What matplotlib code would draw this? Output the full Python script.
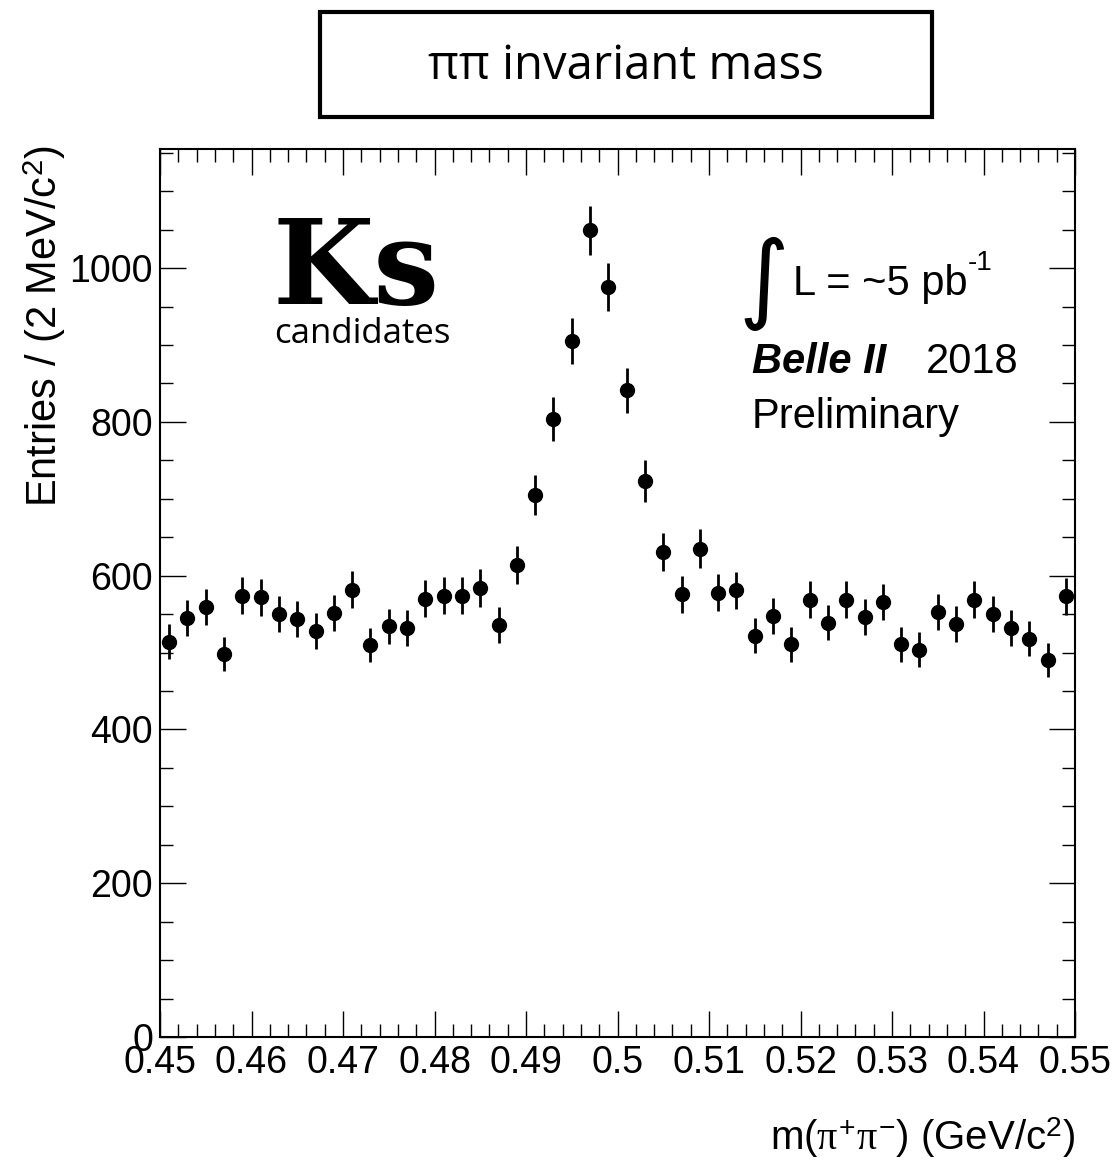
import numpy as np
import matplotlib
matplotlib.use("Agg")
import matplotlib.pyplot as plt
from matplotlib import font_manager
from matplotlib.patches import Rectangle
from matplotlib.ticker import MultipleLocator, FuncFormatter

# m(pi+ pi-) histogram, 50 bins of 2 MeV between 0.45 and 0.55 GeV
bin_lo = 0.45
bin_hi = 0.55
n_bins = 50
counts = [514, 545, 559, 498, 574, 572, 550, 544, 528, 552,
          582, 510, 534, 532, 570, 574, 574, 584, 536, 614,
          705, 804, 905, 1049, 975, 841, 723, 631, 576, 635,
          578, 581, 522, 548, 511, 569, 539, 569, 546, 566,
          511, 504, 553, 537, 569, 550, 532, 518, 490, 573]

edges = np.linspace(bin_lo, bin_hi, n_bins + 1)
centers = 0.5 * (edges[:-1] + edges[1:])
counts = np.array(counts, dtype=float)
errors = np.sqrt(counts)

# narrow Helvetica look for the axis numbers if available
installed = {f.name for f in font_manager.fontManager.ttflist}
narrow = "Liberation Sans Narrow" if "Liberation Sans Narrow" in installed else "Liberation Sans"
num_size = 30 if narrow != "Liberation Sans" else 27

plt.rcParams["font.family"] = ["Liberation Sans", "DejaVu Sans"]
plt.rcParams["mathtext.fontset"] = "custom"
plt.rcParams["mathtext.rm"] = narrow
plt.rcParams["mathtext.it"] = "Liberation Serif"

W, H = 1118, 1160
fig = plt.figure(figsize=(W / 100, H / 100), dpi=100)
ax = fig.add_axes([160 / W, 1 - 1037 / H, 915 / W, 888 / H])

ax.errorbar(centers, counts, yerr=errors, fmt="o", color="black",
            markersize=10, elinewidth=2.0, capsize=0)

ax.set_xlim(bin_lo, bin_hi)
ax.set_ylim(0, 1155)

ax.xaxis.set_major_locator(MultipleLocator(0.01))
ax.xaxis.set_minor_locator(MultipleLocator(0.002))
ax.yaxis.set_major_locator(MultipleLocator(200))
ax.yaxis.set_minor_locator(MultipleLocator(50))
ax.xaxis.set_major_formatter(FuncFormatter(lambda v, p: f"{v:.2f}".rstrip("0").rstrip(".")))
ax.yaxis.set_major_formatter(FuncFormatter(lambda v, p: f"{v:.0f}"))

ax.tick_params(which="both", direction="in", top=True, right=True, width=1.0, color="black")
ax.tick_params(which="major", length=19)
ax.tick_params(which="minor", length=9.5)
ax.tick_params(axis="x", which="major", pad=6)
ax.tick_params(axis="y", which="major", pad=5)
for lab in ax.get_xticklabels() + ax.get_yticklabels():
    lab.set_fontfamily(narrow)
    lab.set_fontsize(num_size)
for sp in ax.spines.values():
    sp.set_linewidth(1.5)

# axis titles
fig.text(45 / W, 1 - 145 / H, "Entries / (2 MeV/c$^{\\mathregular{2}}$)",
         rotation=90, ha="center", va="top", fontsize=30)
fig.text(1075 / W, 1 - 1138 / H,
         "m($\\pi^{+}\\pi^{-}$) (GeV/c$^{\\mathregular{2}}$)",
         ha="right", va="center", fontsize=29, family=narrow)

# boxed title on top
fig.patches.append(Rectangle((320 / W, 1 - 117 / H), 612 / W, 105 / H,
                             transform=fig.transFigure, fill=False,
                             edgecolor="black", linewidth=3))
fig.text(626 / W, 1 - 66 / H, "ππ invariant mass", ha="center", va="center",
         fontsize=34, family="Open Sans")

# Ks candidates label
fig.text(272 / W, 1 - 304 / H, "Ks", ha="left", va="baseline",
         fontsize=84, family="DejaVu Serif", weight="bold")
fig.text(362 / W, 1 - 343 / H, "candidates", ha="center", va="baseline",
         fontsize=25, family="Open Sans")

# luminosity and experiment labels
fig.text(764 / W, 1 - 284 / H, "∫", ha="center", va="center",
         fontsize=70, family="DejaVu Sans")
fig.text(793 / W, 1 - 295 / H, "L = ~5 pb", ha="left", va="baseline", fontsize=30)
fig.text(968 / W, 1 - 270 / H, "-1", ha="left", va="baseline", fontsize=20)
fig.text(752 / W, 1 - 373 / H, "Belle II", ha="left", va="baseline",
         fontsize=30, weight="bold", style="italic")
fig.text(926 / W, 1 - 373 / H, "2018", ha="left", va="baseline", fontsize=30)
fig.text(752 / W, 1 - 428 / H, "Preliminary", ha="left", va="baseline", fontsize=30)

fig.savefig("out.png", dpi=100)
